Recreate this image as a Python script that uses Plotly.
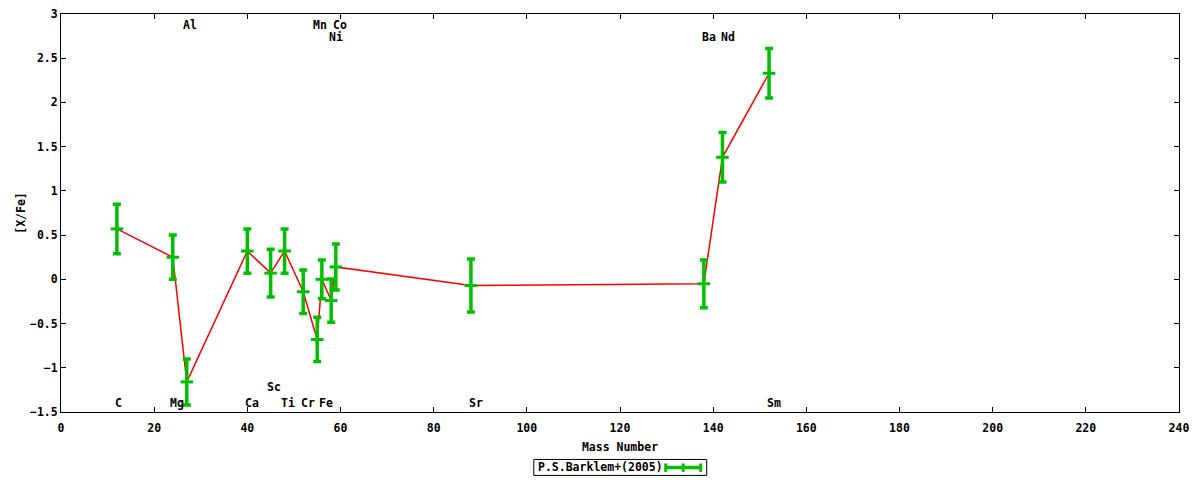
import plotly.graph_objects as go

# Data (mass number, [X/Fe], error)
elements = ["C", "Mg", "Al", "Ca", "Sc", "Ti", "Cr", "Mn", "Fe", "Ni", "Co", "Sr", "Ba", "Nd", "Sm"]
mass = [12, 24, 27, 40, 45, 48, 52, 55, 56, 58, 59, 88, 138, 142, 152]
xfe = [0.57, 0.25, -1.16, 0.32, 0.07, 0.32, -0.14, -0.68, 0.0, -0.24, 0.14, -0.07, -0.05, 1.38, 2.33]
err = [0.28, 0.25, 0.26, 0.25, 0.27, 0.25, 0.245, 0.25, 0.22, 0.245, 0.26, 0.30, 0.27, 0.28, 0.28]

# Element label positions
label_names = ["C", "Mg", "Ca", "Sc", "Ti", "Cr", "Fe", "Sr", "Sm", "Al", "Mn", "Co", "Ni", "Ba", "Nd"]
label_x = [12.3, 24.8, 41.0, 45.8, 48.8, 53.0, 56.9, 89.0, 153.0, 27.7, 55.6, 59.9, 59.0, 139.2, 143.1]
label_y = [-1.40, -1.40, -1.40, -1.215, -1.40, -1.40, -1.40, -1.40, -1.40, 2.876, 2.876, 2.876, 2.74, 2.74, 2.74]

legend_name = "P.S.Barklem+(2005)"
x_ticks = list(range(0, 241, 20))
y_ticks = [-1.5, -1, -0.5, 0, 0.5, 1, 1.5, 2, 2.5, 3]

GREEN = "#00c000"
RED = "#ff0000"
FONT = dict(family="DejaVu Sans Mono", size=11.5, color="black", weight="bold")

fig = go.Figure()
fig.add_trace(go.Scatter(x=mass, y=xfe, mode="lines",
                         line=dict(color=RED, width=1.5), showlegend=False, hoverinfo="skip"))
fig.add_trace(go.Scatter(x=mass, y=xfe, mode="markers", name=legend_name,
                         marker=dict(symbol="line-ew-open", size=9, color=GREEN,
                                     line=dict(color=GREEN, width=3)),
                         error_y=dict(type="data", array=err, visible=True, color=GREEN,
                                      thickness=3.5, width=4),
                         showlegend=False))

for n, lx, ly in zip(label_names, label_x, label_y):
    fig.add_annotation(x=lx, y=ly, xref="x", yref="y", text=n, showarrow=False, font=FONT)

# Manual legend (gnuplot style: text left, sample right)
L, R, T, B = 61, 1179.5, 14, 412.5
def px(xp):
    return (xp - L) / (R - L)
def py(yp):
    return (B - yp) / (B - T)

fig.add_shape(type="rect", xref="paper", yref="paper",
              x0=px(534), x1=px(707), y0=py(476), y1=py(460),
              line=dict(color="black", width=1), fillcolor="white")
fig.add_annotation(xref="paper", yref="paper", x=px(536), y=py(468), xanchor="left", yanchor="middle",
                   text=legend_name, showarrow=False, font=FONT)
fig.add_shape(type="line", xref="paper", yref="paper", x0=px(666), x1=px(701), y0=py(468), y1=py(468),
              line=dict(color=GREEN, width=3.5))
for xv in (666, 683.5, 701):
    fig.add_shape(type="line", xref="paper", yref="paper", x0=px(xv), x1=px(xv), y0=py(464), y1=py(472.5),
                  line=dict(color=GREEN, width=3))

axis_common = dict(showline=True, linecolor="black", linewidth=1, mirror="ticks",
                   ticks="inside", ticklen=5, tickcolor="black", showgrid=False, zeroline=False,
                   tickfont=FONT)
fig.update_xaxes(range=[0, 240], tickvals=x_ticks, ticklabelstandoff=5,
                 title=dict(text="Mass Number", font=FONT, standoff=9), **axis_common)
fig.update_yaxes(range=[-1.5, 3], tickvals=y_ticks,
                 title=dict(text="[X/Fe]", font=FONT, standoff=1), **axis_common)

fig.update_layout(width=1200, height=480, margin=dict(l=61, r=20.5, t=14, b=67.5, autoexpand=False),
                  plot_bgcolor="white", paper_bgcolor="white", showlegend=False)

fig.write_html("out.html", config={"displayModeBar": False},
               post_script="document.body.style.margin='0px';document.body.style.overflow='hidden';")
